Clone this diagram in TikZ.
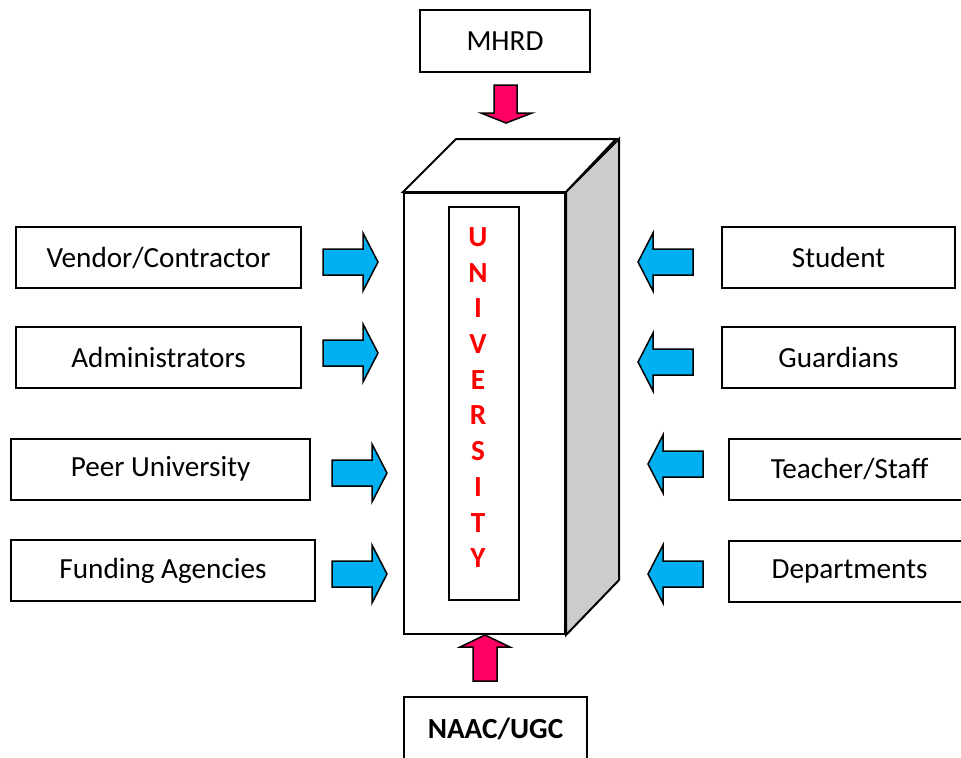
\documentclass[tikz,border=0pt]{standalone}
\usepackage{fontspec}
\setmainfont{Carlito}
\usetikzlibrary{positioning}
\definecolor{arrowblue}{HTML}{00B0F0}
\definecolor{arrowpink}{HTML}{FF0066}
\definecolor{sidegray}{HTML}{CCCCCC}
\definecolor{letterred}{HTML}{FF0000}
\tikzset{
	party/.style={draw,line width=1pt,minimum height=30.5pt,inner sep=0pt,font=\fontsize{14.6}{17}\selectfont},
	blue arrow/.style={draw,fill=arrowblue,line width=0.75pt,line join=miter},
	pink arrow/.style={draw,fill=arrowpink,line width=0.75pt,line join=miter},
	letter/.style={inner sep=0pt,text=letterred,font=\fontsize{14.6}{17}\selectfont\bfseries},
	pics/bluearrow/.style={code={
		\filldraw[blue arrow] (0,-13)--(40,-13)--(40,-29)--(55,0)--(40,29)--(40,13)--(0,13)--cycle;}}
}
\begin{document}
\begin{tikzpicture}[x=0.5pt,y=-0.5pt]
	\useasboundingbox (0,0) rectangle (961,757);
	% the university block
	\node[draw,line width=1pt,minimum width=80.5pt,minimum height=220.5pt,inner sep=0pt] (front) at (484.5,413.5) {};
	\filldraw[fill=white,line width=1pt] (front.north west) -- ++(53,-53) -- ++(160,0) -- (front.north east) -- cycle;
	\filldraw[fill=sidegray,line width=1pt] (front.north east) -- ++(53,-53) -- ++(0,441) -- (front.south east) -- cycle;
	\node[draw,line width=1pt,minimum width=35pt,minimum height=196.5pt,inner sep=0pt] (inner) at (484,403.5) {};
	\foreach \ch [count=\i from 0] in {U,N,I,V,E,R,S,I,T,Y}
		\node[letter] (l\i) at (478,{237+35.7*\i}) {\ch};
	% top and bottom
	\node[party,minimum width=85pt,minimum height=31pt] (mhrd) at (505,41) {MHRD};
	\node[party,minimum width=91.5pt,minimum height=31.5pt,font=\fontsize{14.6}{17}\selectfont\bfseries] (naac) at (495.5,728.5) {NAAC/UGC};
	\filldraw[pink arrow] (494,85)--(517,85)--(517,113)--(532,113)--(506,123)--(481,113)--(494,113)--cycle;
	\filldraw[pink arrow] (473,681)--(497,681)--(497,647)--(510,647)--(485,635)--(460,647)--(473,647)--cycle;
	% left side
	\node[party,minimum width=142.5pt] (vendor) at (158.5,257.5) {Vendor/Contractor};
	\node[party,minimum width=142.5pt] (admin) at (158.5,357.5) {Administrators};
	\node[party,minimum width=149.5pt] (peer) at (160.5,469) {Peer University};
	\node[party,minimum width=152pt] (funding) at (163,570.5) {Funding Agencies};
	\foreach \y in {262,353} \pic at (323,\y) {bluearrow};
	\foreach \y in {473,574} \pic at (332,\y) {bluearrow};
	% right side
	\node[party,minimum width=116.5pt] (student) at (838.5,257.5) {Student};
	\node[party,minimum width=116.5pt] (guardians) at (838.5,357.5) {Guardians};
	\node[party,minimum width=120.5pt] (teacher) at (849.5,469) {Teacher/Staff};
	\node[party,minimum width=120.5pt] (departments) at (849.5,571) {Departments};
	\foreach \y in {262,362} \pic[rotate=180] at (693,\y) {bluearrow};
	\foreach \y in {464,574} \pic[rotate=180] at (703,\y) {bluearrow};
\end{tikzpicture}
\end{document}
